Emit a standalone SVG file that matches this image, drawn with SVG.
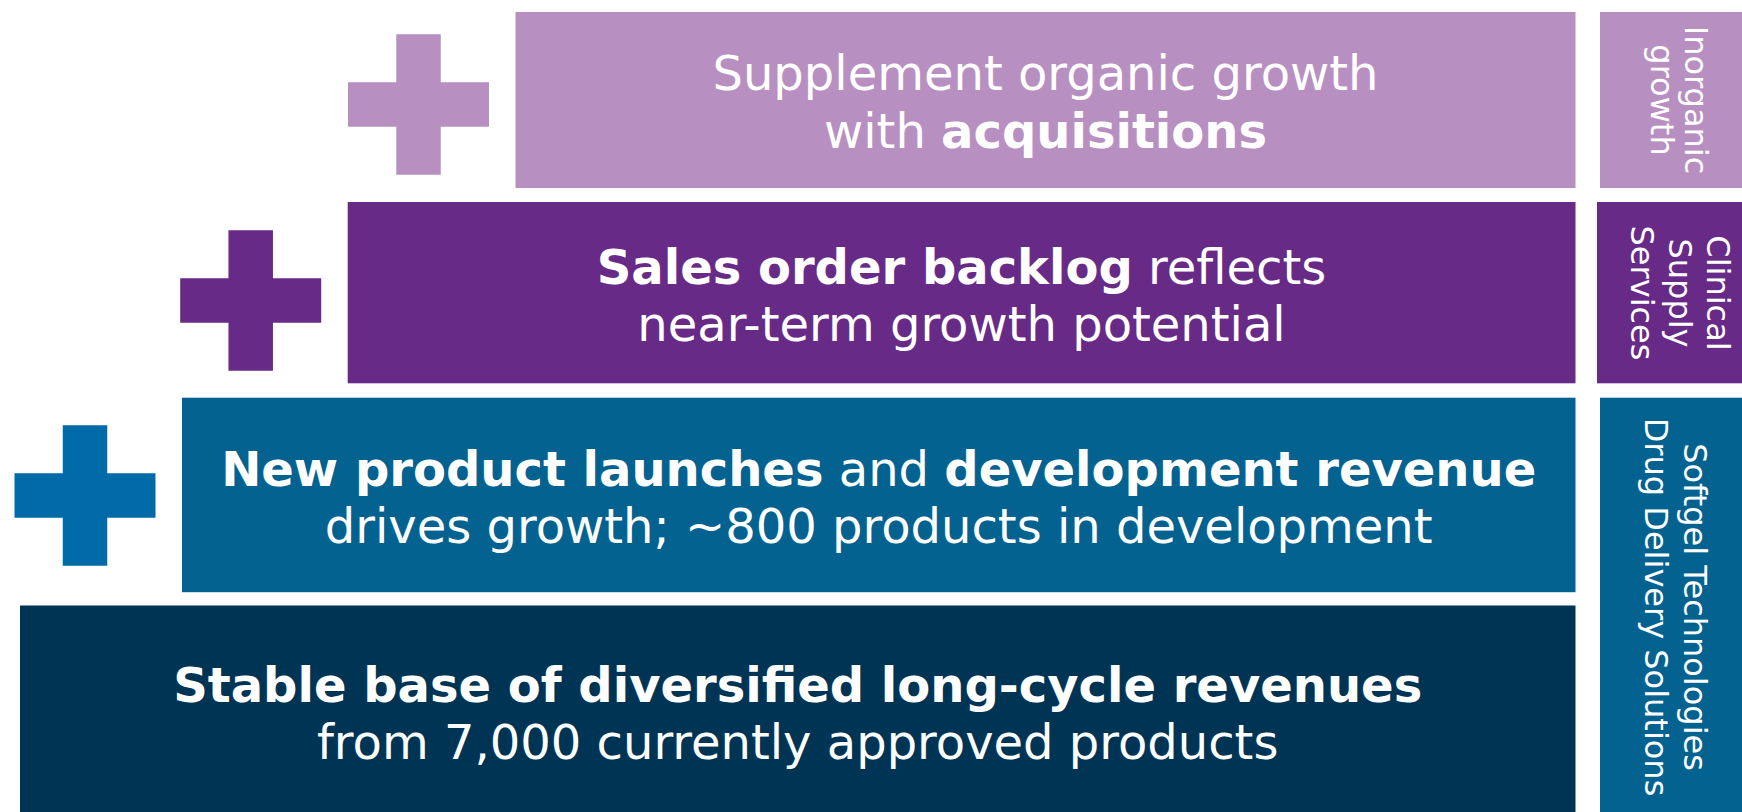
<svg xmlns="http://www.w3.org/2000/svg" xmlns:xlink="http://www.w3.org/1999/xlink" width="1742" height="812" viewBox="0 0 1742 812">
<style>
.t{font-family:"DejaVu Sans","Liberation Sans",sans-serif;fill:#ffffff;text-anchor:middle}
.main{font-size:48px}
.side{font-size:32px}
.b{font-weight:bold}
.lp{fill:#B790C1}
.pp{fill:#672A86}
.bl{fill:#03628F}
.dk{fill:#003454}
.bp{fill:#006BA8}
</style>
<defs>
<path id="plus" d="M-22.25,-70.25 H22.25 V-22.25 H70.5 V22.25 H22.25 V70.25 H-22.25 V22.25 H-70.5 V-22.25 H-22.25 Z"/>
</defs>
<rect width="1742" height="812" fill="#ffffff"/>
<g id="plus-acquisitions"><use xlink:href="#plus" href="#plus" class="lp" transform="translate(418.5,104.5)"/></g>
<g id="plus-backlog"><use xlink:href="#plus" href="#plus" class="pp" transform="translate(250.7,300.5)"/></g>
<g id="plus-launches"><use xlink:href="#plus" href="#plus" class="bp" transform="translate(85,495.5)"/></g>
<g id="acquisitions">
<rect class="lp" x="515.5" y="12" width="1060" height="176"/>
<text class="t main" x="1045.5" y="90">Supplement organic growth</text>
<text class="t main" x="1045.5" y="148">with <tspan class="b">acquisitions</tspan></text>
</g>
<g id="backlog">
<rect class="pp" x="347.7" y="202" width="1227.8" height="181.3"/>
<text class="t main" x="961.5" y="284"><tspan class="b">Sales order backlog</tspan> reflects</text>
<text class="t main" x="961.5" y="341">near-term growth potential</text>
</g>
<g id="launches">
<rect class="bl" x="182" y="397.7" width="1393.5" height="194.5"/>
<text class="t main" x="878.7" y="486"><tspan class="b">New product launches</tspan> and <tspan class="b">development revenue</tspan></text>
<text class="t main" x="878.7" y="543">drives growth; ~800 products in development</text>
</g>
<g id="base">
<rect class="dk" x="20" y="605.5" width="1555.5" height="206.5"/>
<text class="t main" x="797.7" y="702"><tspan class="b">Stable base of diversified long-cycle revenues</tspan></text>
<text class="t main" x="797.7" y="759">from 7,000 currently approved products</text>
</g>
<g id="inorganic-growth">
<rect class="lp" x="1600" y="12" width="142" height="176"/>
<text class="t side" transform="translate(1685,100) rotate(90)">Inorganic</text>
<text class="t side" transform="translate(1651,100) rotate(90)">growth</text>
</g>
<g id="clinical-supply-services">
<rect class="pp" x="1597" y="202" width="145" height="181.3"/>
<text class="t side" transform="translate(1707,293) rotate(90)">Clinical</text>
<text class="t side" transform="translate(1669,293) rotate(90)">Supply</text>
<text class="t side" transform="translate(1631,293) rotate(90)">Services</text>
</g>
<g id="softgel-drug-delivery">
<rect class="bl" x="1600" y="397.7" width="142" height="414.3"/>
<text class="t side" transform="translate(1684,607) rotate(90)">Softgel Technologies</text>
<text class="t side" transform="translate(1645,607) rotate(90)">Drug Delivery Solutions</text>
</g>
<g id="connectors"></g>
</svg>
